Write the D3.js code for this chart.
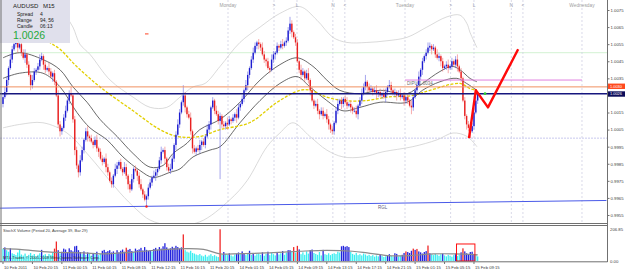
<!DOCTYPE html>
<html>
<head>
<meta charset="utf-8">
<script src="https://cdn.jsdelivr.net/npm/d3@7"></script>
<style>
  body { margin: 0; background: #fff; }
  svg { display: block; font-family: "Liberation Sans", Arial, sans-serif; }
</style>
</head>
<body>
<svg></svg>
<script>
// AUDUSD M15, prices stored x10000, open = previous close
const firstOpen = 10020;
const closes = [
  10024,10027,10034,10041,10046,10052,10055,10056,10053,10055,10050,10047,10049,10043,10037,10031,10034,10039,10040,10042,
  10046,10048,10043,10040,10041,10039,10036,10038,10033,10025,10008,10004,10006,10012,10016,10022,10026,10025,10011,9993,
  9984,9980,9987,9993,9999,10004,10001,10000,9998,9996,9999,9994,9992,9988,9986,9988,9983,9980,9975,9973,
  9978,9982,9984,9986,9982,9980,9983,9978,9973,9970,9976,9982,9981,9978,9973,9970,9967,9964,9966,9971,
  9974,9977,9978,9980,9982,9987,9992,9993,9988,9983,9981,9982,9988,9996,10002,10008,10015,10021,10025,10018,
  10014,10012,10004,9994,9992,9994,9993,9996,9998,9996,10001,10005,10008,10018,10022,10016,10014,10010,10013,10008,
  10007,10009,10008,10011,10010,10012,10014,10012,10018,10020,10023,10028,10031,10037,10041,10046,10050,10054,10056,10055,
  10053,10049,10046,10045,10041,10040,10046,10049,10050,10054,10053,10055,10054,10056,10057,10063,10067,10062,10059,10056,
  10045,10040,10037,10039,10035,10038,10034,10028,10022,10019,10020,10016,10014,10016,10013,10014,10011,10008,10005,10004,
  10009,10016,10020,10022,10020,10023,10021,10019,10020,10018,10016,10016,10014,10019,10022,10026,10030,10033,10030,10028,
  10029,10027,10028,10026,10027,10025,10026,10024,10027,10030,10031,10028,10026,10027,10025,10026,10024,10025,10022,10024,
  10022,10019,10018,10024,10028,10031,10036,10040,10045,10048,10050,10053,10054,10052,10053,10049,10047,10048,10045,10041,
  10042,10043,10041,10042,10045,10043,10046,10042,10039,10035,10022,10013,10008,10006,10004,10007,10015,10022,10026
];
const upWick = [
  2,3,2,1,3,2,1,4,2,3,1,2,3,1,2,1,3,2,1,2, 3,2,1,2,1,3,2,1,2,1,3,2,1,2,3,1,2,4,1,2,
  2,1,3,2,1,2,3,1,2,1,2,3,1,2,2,1,3,2,1,2, 1,3,2,1,2,1,3,2,1,2,3,1,2,1,2,3,1,2,1,2,
  2,1,3,2,1,2,3,1,2,1,2,3,2,1,2,3,2,1,6,2, 1,2,3,1,2,1,2,3,1,2,1,3,2,1,2,1,3,2,2,1,
  2,1,3,2,1,2,1,3,2,1,2,1,3,2,1,2,3,2,1,2, 1,3,2,1,2,1,3,2,1,2,1,2,3,1,2,2,4,2,1,2,
  2,1,3,2,1,2,3,1,2,1,2,3,1,2,2,1,3,2,1,2, 1,2,3,1,2,1,2,3,1,2,1,2,3,1,2,3,2,4,1,2,
  2,1,2,3,1,2,1,3,2,1,3,2,1,2,1,2,3,1,2,1, 2,1,3,2,1,2,3,1,2,1,2,3,2,1,2,1,3,2,1,2,
  1,2,3,1,2,1,2,3,1,2,1,2,1,2,1,2,3,2,1
];
const downWick = [
  2,1,2,3,1,2,1,2,3,1,2,1,3,2,1,3,2,1,2,1, 2,1,3,2,1,2,1,3,2,1,2,3,2,1,2,1,2,1,2,3,
  2,3,2,1,2,1,3,2,1,2,1,2,3,1,2,1,3,2,1,2, 2,1,3,2,1,2,1,2,3,2,1,2,1,3,2,1,2,1,4,2,
  1,2,1,3,2,1,2,1,3,2,1,2,1,2,3,1,2,1,2,3, 2,1,2,3,1,2,1,2,3,1,2,1,2,3,1,2,1,2,34,2,
  1,2,3,1,2,1,2,3,1,2,1,2,1,3,2,1,2,1,2,3, 2,1,2,3,1,2,1,2,3,1,2,1,2,1,2,1,2,3,1,2,
  1,2,3,1,2,1,2,3,1,2,1,2,3,1,2,1,2,3,2,2, 2,1,2,1,3,2,1,2,1,3,2,1,2,3,1,2,1,2,3,1,
  1,2,1,3,2,1,2,1,3,2,1,2,1,2,3,1,2,1,3,2, 2,1,4,2,1,2,1,2,3,1,2,1,2,3,1,2,1,2,3,2,
  1,2,3,1,2,1,2,3,1,2,1,2,3,2,4,1,2,1,2
];
const volumes = [
  80,88,70,60,82,50,45,38,55,75,42,35,48,30,40,52,36,45,28,40, 50,72,38,44,32,46,40,55,80,126,70,48,60,80,74,56,82,70,62,95,
  98,70,58,45,62,40,55,48,35,52,44,60,38,46,66,72,58,64,70,55, 62,48,70,56,66,74,60,86,72,78,64,58,80,70,75,85,68,90,72,66,
  70,62,78,85,72,90,80,95,115,88,76,82,92,85,98,90,80,88,172,70, 60,55,66,52,48,42,38,45,35,30,40,28,36,44,32,38,30,26,205,40,
  58,45,38,50,36,30,42,48,55,44,62,50,38,46,66,40,52,35,44,48, 40,56,34,46,60,38,52,44,36,58,42,50,64,40,55,70,70,60,90,55,
  98,75,44,56,40,62,48,70,74,52,46,40,58,36,72,44,40,50,38,46, 50,45,60,55,95,98,92,96,90,58,46,40,52,38,44,36,48,42,34,40,
  32,38,28,36,30,42,34,26,30,38,44,32,28,50,46,30,34,40,52,62, 58,52,66,80,72,78,62,56,48,58,64,100,50,44,38,46,40,34,44,48,
  36,30,40,34,28,38,48,32,40,56,82,62,50,44,58,60,46,40,30
];
const redBars = [28, 29, 67, 98, 118, 158, 160, 219, 223, 225, 231, 250];
const volAvg = [[0,80],[9,75],[26,58],[44,52],[53,46],[71,58],[89,75],[100,80],[109,75],[118,46],[125,46],
  [143,52],[161,63],[176,69],[190,63],[198,52],[209,35],[221,35],[234,46],[245,46],[258,40]];

// indicator lines: [bar, price x10000]
const maYellow = [[17,10063],[25.5,10056],[31,10052],[40,10042],[52.7,10030],[70.7,10016],[85.3,10005],[94.6,10001],
  [107,10001],[118,10005],[134,10009],[149,10021],[161.4,10028],[167,10028],[176,10024],[184.8,10022],[197.8,10022],
  [208.7,10024],[222.8,10025],[232,10028],[248.4,10032],[253.8,10029],[257.6,10028]];
const maUpper = [[0,10047],[9,10050],[21.7,10046],[31,10040],[38,10030],[45.7,10021],[52.7,10011],[62,10001],[70.7,9991],
  [80,9983],[87,9984],[92.4,9991],[100,9997],[107,10005],[118,10011],[128.8,10021],[139.7,10034],[150.5,10043],
  [159.8,10047],[168.5,10042],[176,10034],[183,10028],[194,10026],[205,10028],[219.6,10026],[228,10032],[237.5,10039],
  [244,10042],[248.4,10040],[253.8,10035],[257.6,10033]];
const maLower = [[0,10035],[9,10038],[21.7,10038],[31,10030],[40.2,10015],[47.3,10006],[56.5,9999],[65.2,9989],
  [74.5,9981],[81.5,9977],[90.8,9980],[96.2,9982],[103.3,9989],[112.5,9993],[118,9995],[128.8,10009],[139.7,10022],
  [150.5,10032],[159.8,10036],[166.8,10030],[176,10022],[184.8,10016],[194,10018],[205,10021],[219.6,10021],[228,10028],
  [237.5,10033],[246.7,10035],[252,10032],[257.6,10028]];
const bandUpper = [[28,10078],[33.7,10072],[38,10065],[41.8,10055],[47.3,10049],[58.2,10034],[70.7,10024],[80,10018],
  [89,10018],[96.2,10024],[103.3,10030],[109.8,10032],[118,10042],[128.8,10056],[139.7,10065],[150.5,10073],
  [161.4,10077],[170.7,10069],[179.3,10059],[187,10056],[197.8,10056],[208.7,10057],[219.6,10059],[230.4,10065],
  [241.3,10071],[248.4,10072],[252.2,10067],[253.8,10062],[257.6,10053]];
const bandLower = [[0,10006],[9,10008],[21.7,10009],[34.8,10003],[45.7,9991],[54.3,9980],[63.6,9968],[72.8,9958],
  [80,9952],[90.8,9949],[107,9951],[123.4,9964],[132.6,9975],[143.5,9995],[150.5,10003],[157.6,10009],[166.8,10001],
  [176,9993],[184.8,9989],[195.7,9989],[206.5,9992],[222.8,9995],[235.9,9999],[244.6,10003],[252.2,10001],[257.6,9995]];

// 1.0025 sits under the bid tag, as in the terminal
const priceTicks = [0.9955,0.9965,0.9975,0.9985,0.9995,1.0005,1.0015,1.0035,1.0045,1.0055,1.0065,1.0075];
const timeTicks = [[0,"10 Feb 2011"],[16,"10 Feb 20:15"],[32,"11 Feb 00:15"],[48,"11 Feb 04:15"],[64,"11 Feb 08:15"],
  [80,"11 Feb 12:15"],[96,"11 Feb 16:15"],[112,"11 Feb 20:15"],[128,"14 Feb 01:15"],[144,"14 Feb 05:15"],
  [160,"14 Feb 09:15"],[176,"14 Feb 13:15"],[192,"14 Feb 17:15"],[208,"14 Feb 21:15"],[224,"15 Feb 01:15"],
  [240,"15 Feb 05:15"],[256,"15 Feb 09:15"]];
const days = [[122.3,"Monday"],[218.5,"Tuesday"],[314.7,"Wednesday"]];
const sessions = [[147.3,">"],[159.8,"L"],[179.3,"N"],[185.8,"<"],[243.3,">"],[256,"L"],[276.3,"N"],[282.6,"<"]];

const bid = 1.0026, ask = 1.0030, pivot = 1.0034, pivotFrom = 218.5;
const greenLevel = 1.0050, parityLevel = 1.0000;
const trendLine = [[-2,0.99590],[328,0.99635]];
const forecast = [[253.3,1.0000],[257,1.0028],[263.6,1.0018],[280,1.0052]];
const forecastDot = [262, 1.0026];
const lowMark = [78, 0.9960], topDash = [78, 1.0061];
const volMax = 206.85, volBox = [246.5, 256.5, 110];
const infoLines = [["Spread","4"],["Range","94, 56"],["Candle","06:13"]];

const W = 625, H = 270, R = 607;
const svg = d3.select("svg").attr("width", W).attr("height", H);

const x = d3.scaleLinear().domain([-1.63, 328.3]).range([0, R]);
const y = d3.scaleLinear().domain([0.9955, 1.0075]).range([215, 10]);
const yv = d3.scaleLinear().domain([0, volMax]).range([261, 229]);
const p = v => v / 10000;

const bars = closes.map((c, i) => {
  const o = i ? closes[i-1] : firstOpen;
  return { i, o: p(o), c: p(c), h: p(Math.max(o, c) + upWick[i]), l: p(Math.min(o, c) - downWick[i]) };
});

svg.append("defs").append("clipPath").attr("id", "main")
  .append("rect").attr("width", R).attr("height", 223);

const main = svg.append("g").attr("clip-path", "url(#main)");

// background levels
main.append("line").attr("x1", 0).attr("x2", R).attr("y1", y(greenLevel)).attr("y2", y(greenLevel))
  .attr("stroke", "#d2f2d2").attr("stroke-width", 1);
main.append("line").attr("x1", 0).attr("x2", R).attr("y1", y(parityLevel)).attr("y2", y(parityLevel))
  .attr("stroke", "#c8c8ee").attr("stroke-dasharray", "2,1");

main.selectAll(".vsep").data(days.concat(sessions)).enter().append("line")
  .attr("x1", d => x(d[0])).attr("x2", d => x(d[0]))
  .attr("y1", 0).attr("y2", 223)
  .attr("stroke", "#cfcfe2").attr("stroke-width", 0.8).attr("stroke-dasharray", "2,2");

const curve = (pts, color, w, dash) => main.append("path")
  .attr("d", d3.line().x(d => x(d[0])).y(d => y(p(d[1]))).curve(d3.curveCatmullRom)(pts))
  .attr("fill", "none").attr("stroke", color).attr("stroke-width", w)
  .attr("stroke-dasharray", dash || null);

curve(bandUpper, "#cacaca", 0.7);
curve(bandLower, "#cacaca", 0.7);
curve(maUpper, "#444", 0.8);
curve(maLower, "#444", 0.8);
curve(maYellow, "#e2cf00", 1.3, "3,1.5");

// candles
const candle = main.selectAll(".bar").data(bars).enter().append("g");
candle.append("line")
  .attr("x1", d => x(d.i)).attr("x2", d => x(d.i))
  .attr("y1", d => y(d.h)).attr("y2", d => y(d.l))
  .attr("stroke", d => d.c >= d.o ? "#6a6ae0" : "#f07070").attr("stroke-width", 0.6);
candle.append("rect")
  .attr("x", d => x(d.i) - 0.7).attr("width", 1.4)
  .attr("y", d => y(Math.max(d.o, d.c)))
  .attr("height", d => Math.max(0.8, y(Math.min(d.o, d.c)) - y(Math.max(d.o, d.c))))
  .attr("fill", d => d.c >= d.o ? "#1c1cd0" : "#e82020");

// horizontal levels
main.append("line").attr("x1", 0).attr("x2", R).attr("y1", y(ask)).attr("y2", y(ask))
  .attr("stroke", "#f09060").attr("stroke-width", 1);
main.append("line").attr("x1", 0).attr("x2", R).attr("y1", y(bid)).attr("y2", y(bid))
  .attr("stroke", "#16167e").attr("stroke-width", 1.6);
main.append("line").attr("x1", x(pivotFrom)).attr("x2", x(314.7)).attr("y1", y(pivot)).attr("y2", y(pivot))
  .attr("stroke", "#e080e0").attr("stroke-width", 1);
main.append("text").attr("x", x(pivotFrom) + 2).attr("y", y(pivot) + 4.5)
  .attr("font-size", 4.5).attr("fill", "#707070").text("DIPU  1.0034");

main.append("line")
  .attr("x1", x(trendLine[0][0])).attr("y1", y(trendLine[0][1]))
  .attr("x2", x(trendLine[1][0])).attr("y2", y(trendLine[1][1]))
  .attr("stroke", "#4a5ae8").attr("stroke-width", 1);
main.append("text").attr("x", 378).attr("y", y(0.99610) + 4)
  .attr("font-size", 4.5).attr("fill", "#606080").text("RGL");

main.append("circle").attr("cx", x(lowMark[0])).attr("cy", y(lowMark[1])).attr("r", 1.2).attr("fill", "#ff2020");
main.append("line").attr("x1", x(topDash[0]) - 1.5).attr("x2", x(topDash[0]) + 2)
  .attr("y1", y(topDash[1])).attr("y2", y(topDash[1])).attr("stroke", "#ff4020").attr("stroke-width", 1);

main.append("path")
  .attr("d", d3.line().x(d => x(d[0])).y(d => y(d[1]))(forecast))
  .attr("fill", "none").attr("stroke", "#ff0a0a").attr("stroke-width", 2.4).attr("stroke-linejoin", "round");
main.append("circle").attr("cx", x(forecastDot[0])).attr("cy", y(forecastDot[1])).attr("r", 1.4).attr("fill", "#30d030");

// day & session labels
svg.selectAll(".day").data(days).enter().append("text")
  .attr("x", d => x(d[0])).attr("y", 7).attr("text-anchor", "middle")
  .attr("font-size", 4.8).attr("fill", "#a0a0a0").text(d => d[1]);
svg.selectAll(".ses").data(sessions).enter().append("text")
  .attr("x", d => x(d[0])).attr("y", 7).attr("text-anchor", "middle")
  .attr("font-size", 4.8).attr("fill", "#a0a0b0").text(d => d[1]);

// info box
const info = svg.append("g");
info.append("rect").attr("width", 70).attr("height", 43).attr("fill", "#e0e0ec");
info.append("text").attr("x", 13).attr("y", 8).attr("font-size", 6).attr("fill", "#202020").text("AUDUSD");
info.append("text").attr("x", 43).attr("y", 8).attr("font-size", 6).attr("fill", "#202020").text("M15");
infoLines.forEach((d, k) => {
  info.append("text").attr("x", 17).attr("y", 16 + k*6).attr("font-size", 5).attr("fill", "#202020").text(d[0]);
  info.append("text").attr("x", 40).attr("y", 16 + k*6).attr("font-size", 5).attr("fill", "#202020").text(d[1]);
});
info.append("text").attr("x", 13).attr("y", 39).attr("font-size", 10.5).attr("fill", "#1fa83a").text("1.0026");

// volume panel
svg.append("defs").append("clipPath").attr("id", "vol")
  .append("rect").attr("y", 225).attr("width", R).attr("height", 37);
const vol = svg.append("g").attr("clip-path", "url(#vol)");
const avgAt = d3.scaleLinear().domain(volAvg.map(d => d[0])).range(volAvg.map(d => d[1]));
vol.selectAll(".v").data(volumes).enter().append("rect")
  .attr("x", (d, i) => x(i) - 0.65).attr("width", 1.3)
  .attr("y", d => yv(d)).attr("height", d => yv(0) - yv(d))
  .attr("fill", (d, i) => redBars.includes(i) ? "#f02828" : d > avgAt(i) ? "#2323dc" : "#3ceef0");
vol.append("path")
  .attr("d", d3.line().x(d => x(d[0])).y(d => yv(d[1])).curve(d3.curveCatmullRom)(volAvg))
  .attr("fill", "none").attr("stroke", "#8c8c8c").attr("stroke-width", 1.2);
vol.append("rect")
  .attr("x", x(volBox[0])).attr("width", x(volBox[1]) - x(volBox[0]))
  .attr("y", yv(volBox[2])).attr("height", yv(0) - yv(volBox[2]))
  .attr("fill", "none").attr("stroke", "#ff1010").attr("stroke-width", 1);
vol.append("text").attr("x", 3).attr("y", 231.5).attr("font-size", 4).attr("fill", "#404040")
  .text("StochX Volume (Period 20, Average 39, Bar 29)");
vol.append("text").attr("x", 3).attr("y", 259).attr("font-size", 4).attr("fill", "#303030")
  .text("MT4-Trader, © 2005-2008 MetaQuotes Software Corp.");

// frame
const frame = svg.append("g").attr("stroke", "#707070").attr("stroke-width", 1);
frame.append("line").attr("x1", 1).attr("x2", 1).attr("y1", 0).attr("y2", 262);
frame.append("line").attr("x1", R + 0.5).attr("x2", R + 0.5).attr("y1", 0).attr("y2", 262);
frame.append("line").attr("x1", 0).attr("x2", R).attr("y1", 223.5).attr("y2", 223.5);
frame.append("line").attr("x1", 0).attr("x2", R).attr("y1", 225.5).attr("y2", 225.5);
frame.append("line").attr("x1", 0).attr("x2", R + 0.5).attr("y1", 261.8).attr("y2", 261.8);

// price axis
const pAxis = svg.append("g").attr("transform", `translate(${R + 0.5},0)`)
  .call(d3.axisRight(y).tickValues(priceTicks).tickFormat(d3.format(".4f")).tickSize(2).tickPadding(1));
pAxis.select(".domain").remove();
pAxis.selectAll("line").attr("stroke", "#707070");
pAxis.selectAll("text").attr("font-size", 4.3).attr("fill", "#404040")
  .attr("font-family", "Liberation Sans, Arial, sans-serif");

const tag = (v, color, shift) => {
  const cy = y(v) + shift;
  svg.append("rect").attr("x", R + 1).attr("y", cy - 2.7).attr("width", 17).attr("height", 5.4).attr("fill", color);
  svg.append("text").attr("x", R + 3).attr("y", cy + 1.4).attr("font-size", 3.9).attr("fill", "#fff")
    .text(d3.format(".4f")(v));
};
tag(ask, "#ff4a1e", -0.6);
tag(bid, "#0c0c5a", 0.3);

svg.append("text").attr("x", R + 3).attr("y", yv(volMax) + 1.5).attr("font-size", 4.3).attr("fill", "#404040").text("206.85");
svg.append("text").attr("x", R + 3).attr("y", yv(0) + 1.5).attr("font-size", 4.3).attr("fill", "#404040").text("0.00");

// time axis
const tAxis = svg.append("g").attr("transform", "translate(0,262)");
tAxis.selectAll("line").data(timeTicks).enter().append("line")
  .attr("x1", d => x(d[0])).attr("x2", d => x(d[0])).attr("y1", 0).attr("y2", 2)
  .attr("stroke", "#707070");
tAxis.selectAll("text").data(timeTicks).enter().append("text")
  .attr("x", d => x(d[0]) + 1).attr("y", 6.5)
  .attr("font-size", 4.2).attr("fill", "#404040").text(d => d[1]);
</script>
</body>
</html>
